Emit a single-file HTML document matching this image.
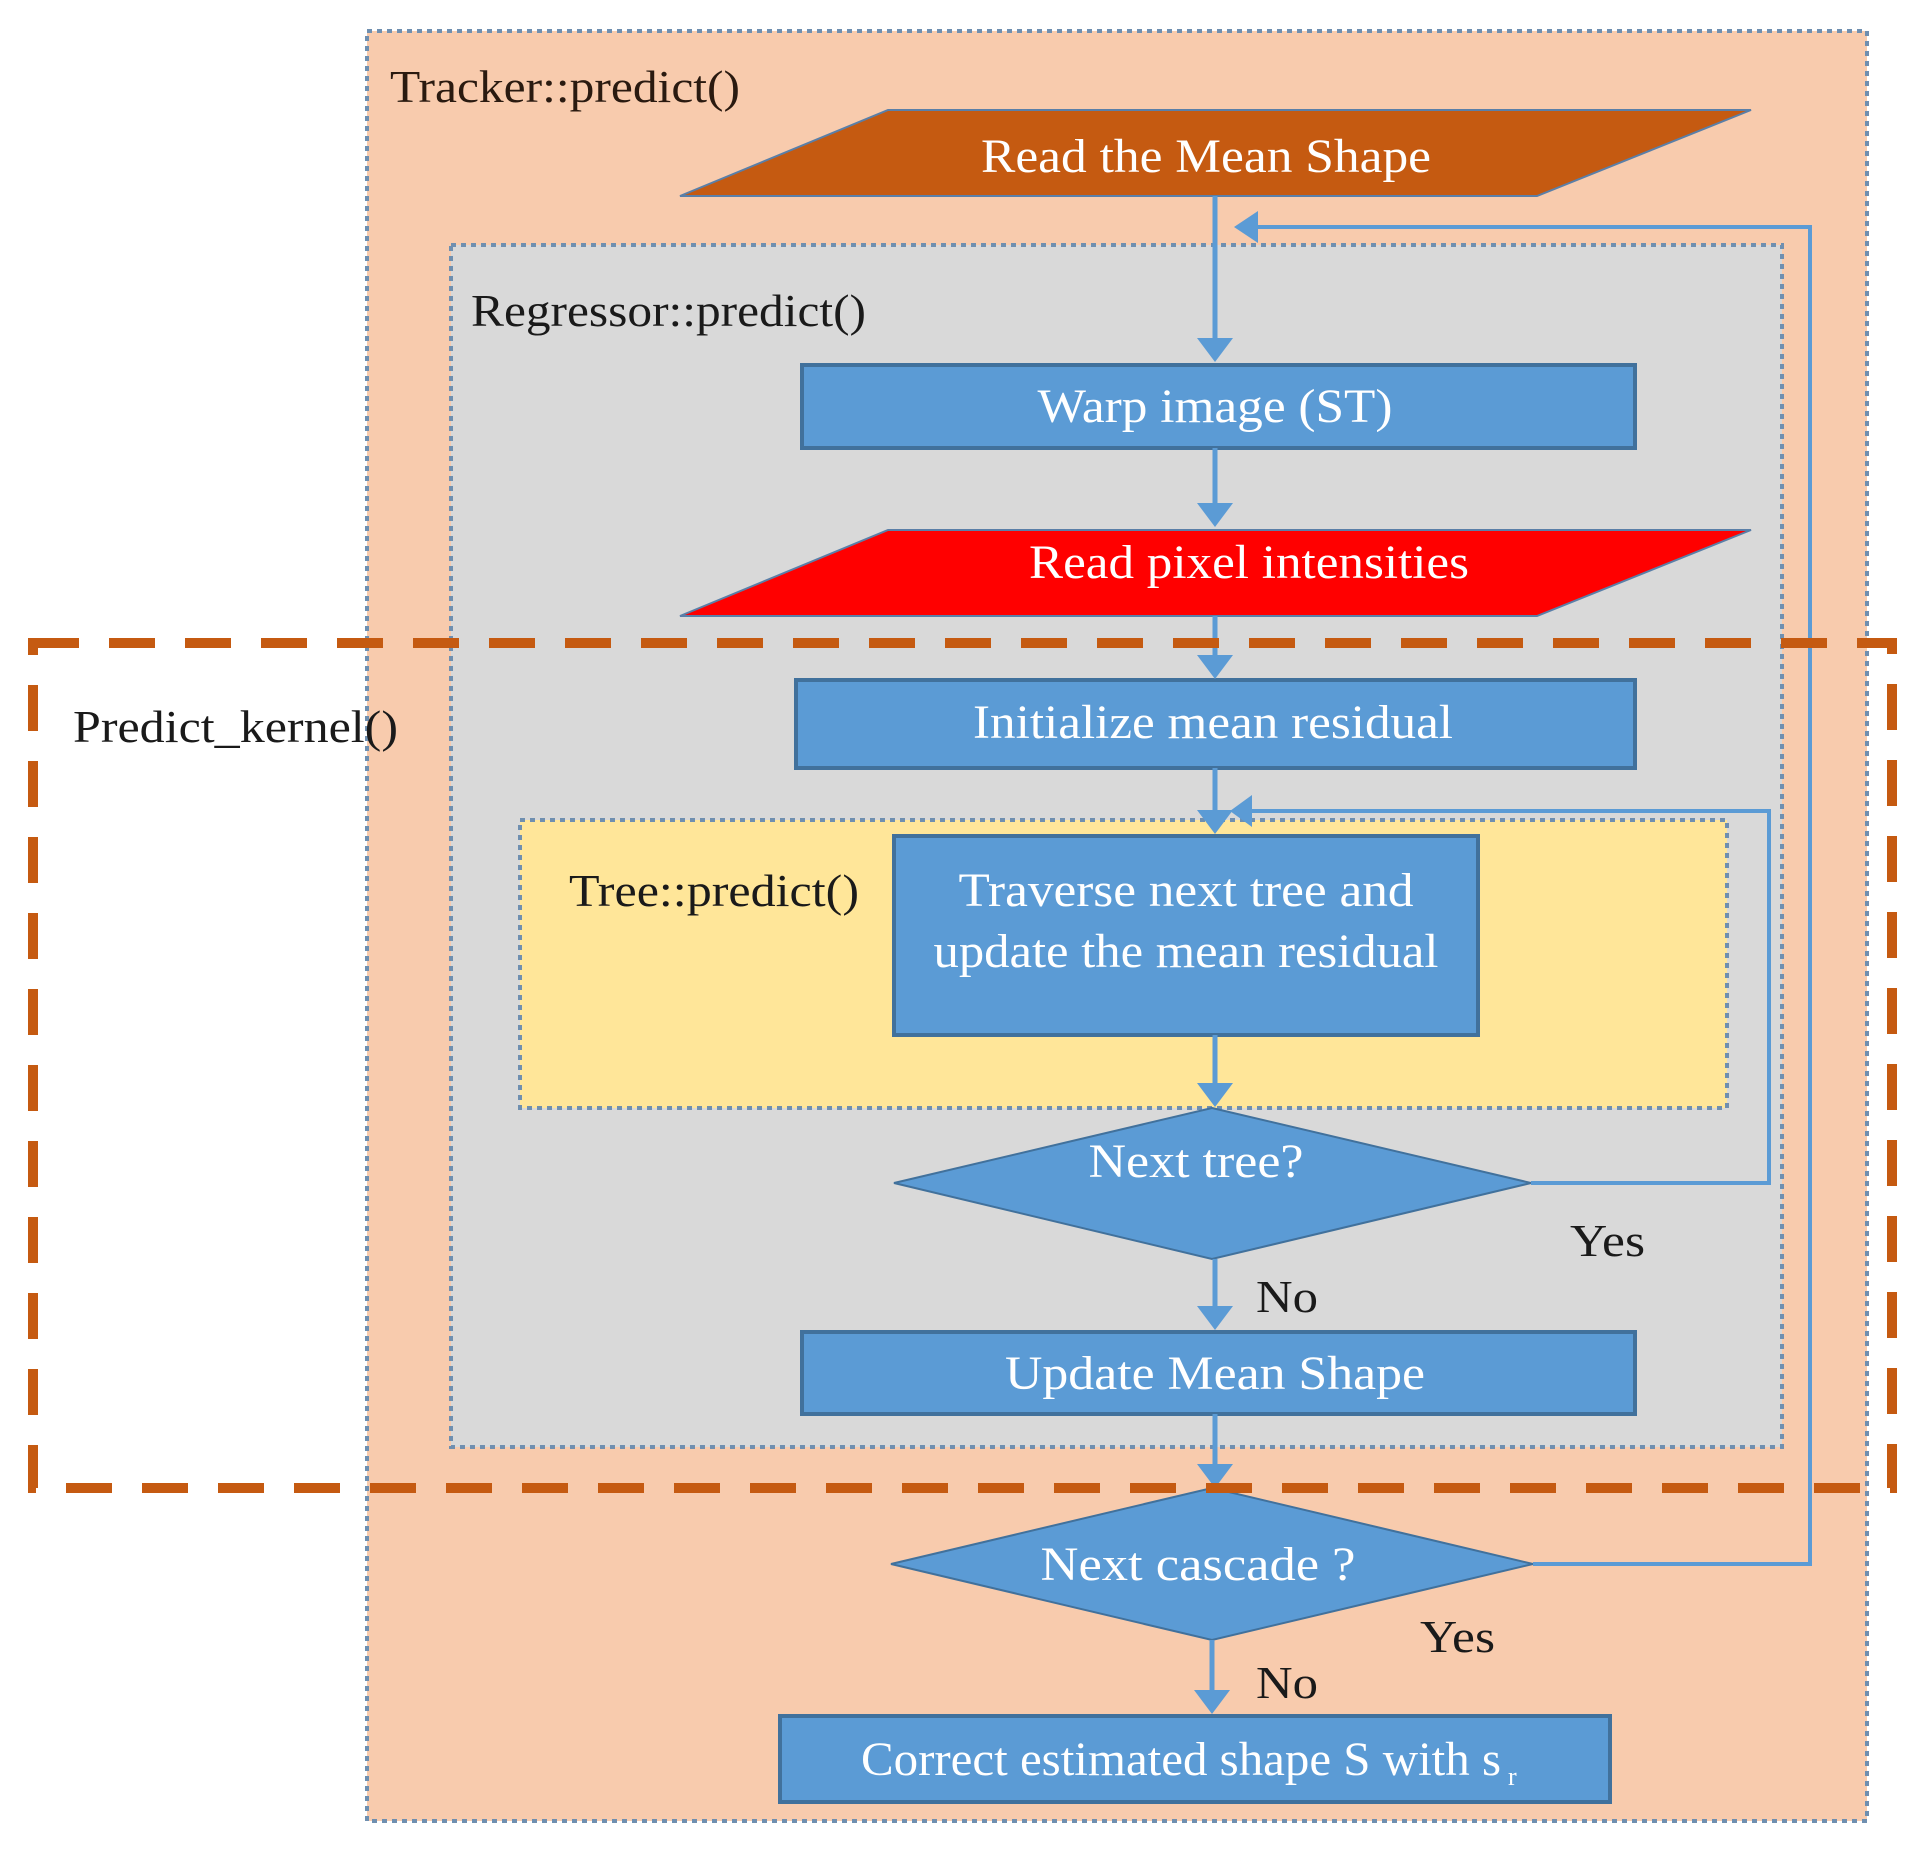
<!DOCTYPE html>
<html><head><meta charset="utf-8"><style>
html,body{margin:0;padding:0;background:#fff;}
svg{display:block;}
text{font-family:"Liberation Serif",serif;}
</style></head><body>
<svg width="1920" height="1855" viewBox="0 0 1920 1855" xmlns="http://www.w3.org/2000/svg">
<!-- Tracker box -->
<rect x="367" y="31" width="1500" height="1790" fill="#f8cbad" stroke="#6f8fb0" stroke-width="4" stroke-dasharray="5,5"/>
<text x="390" y="102" font-size="46" fill="#2a1a10" textLength="350" lengthAdjust="spacingAndGlyphs">Tracker::predict()</text>

<polygon points="888,110 1751,110 1537,196 680,196" fill="#c55a11" stroke="#5a7fa8" stroke-width="2"/>
<text x="1206" y="172" font-size="48" fill="#fff" text-anchor="middle" textLength="450" lengthAdjust="spacingAndGlyphs">Read the Mean Shape</text>

<rect x="451" y="245" width="1331" height="1202" fill="#d9d9d9" stroke="#6f8fb0" stroke-width="4" stroke-dasharray="5,5"/>
<text x="471" y="326" font-size="46" fill="#1a1a1a" textLength="395" lengthAdjust="spacingAndGlyphs">Regressor::predict()</text>

<rect x="802" y="365" width="833" height="83" fill="#5b9bd5" stroke="#41719c" stroke-width="4"/>
<text x="1215" y="422" font-size="48" fill="#fff" text-anchor="middle" textLength="355" lengthAdjust="spacingAndGlyphs">Warp image (ST)</text>

<polygon points="888,530 1751,530 1537,616 680,616" fill="#ff0000" stroke="#5a7fa8" stroke-width="2"/>
<text x="1249" y="578" font-size="48" fill="#fff" text-anchor="middle" textLength="440" lengthAdjust="spacingAndGlyphs">Read pixel intensities</text>

<rect x="796" y="680" width="839" height="88" fill="#5b9bd5" stroke="#41719c" stroke-width="4"/>
<text x="1213" y="738" font-size="48" fill="#fff" text-anchor="middle" textLength="480" lengthAdjust="spacingAndGlyphs">Initialize mean residual</text>

<rect x="520" y="820" width="1207" height="288" fill="#ffe699" stroke="#6f8fb0" stroke-width="4" stroke-dasharray="5,5"/>
<text x="569" y="906" font-size="46" fill="#1a1a1a" textLength="290" lengthAdjust="spacingAndGlyphs">Tree::predict()</text>

<rect x="894" y="836" width="584" height="199" fill="#5b9bd5" stroke="#41719c" stroke-width="4"/>
<text x="1186" y="906" font-size="48" fill="#fff" text-anchor="middle" textLength="455" lengthAdjust="spacingAndGlyphs">Traverse next tree and</text>
<text x="1186" y="967" font-size="48" fill="#fff" text-anchor="middle" textLength="505" lengthAdjust="spacingAndGlyphs">update the mean residual</text>

<polygon points="1212,1108 1531,1183 1212,1259 894,1183" fill="#5b9bd5" stroke="#41719c" stroke-width="2"/>
<text x="1196" y="1177" font-size="48" fill="#fff" text-anchor="middle" textLength="215" lengthAdjust="spacingAndGlyphs">Next tree?</text>

<rect x="802" y="1332" width="833" height="82" fill="#5b9bd5" stroke="#41719c" stroke-width="4"/>
<text x="1215" y="1389" font-size="48" fill="#fff" text-anchor="middle" textLength="420" lengthAdjust="spacingAndGlyphs">Update Mean Shape</text>

<polygon points="1212,1488 1533,1564 1212,1640 891,1564" fill="#5b9bd5" stroke="#41719c" stroke-width="2"/>
<text x="1198" y="1580" font-size="48" fill="#fff" text-anchor="middle" textLength="315" lengthAdjust="spacingAndGlyphs">Next cascade ?</text>

<rect x="780" y="1716" width="830" height="86" fill="#5b9bd5" stroke="#41719c" stroke-width="4"/>
<text x="861" y="1775" font-size="48" fill="#fff" textLength="640" lengthAdjust="spacingAndGlyphs">Correct estimated shape S with s</text>
<text x="1508" y="1785" font-size="26" fill="#fff">r</text>

<text x="1570" y="1256" font-size="46" fill="#1a1a1a" textLength="75" lengthAdjust="spacingAndGlyphs">Yes</text>
<text x="1256" y="1312" font-size="46" fill="#1a1a1a" textLength="62" lengthAdjust="spacingAndGlyphs">No</text>
<text x="1420" y="1652" font-size="46" fill="#1a1a1a" textLength="75" lengthAdjust="spacingAndGlyphs">Yes</text>
<text x="1256" y="1698" font-size="46" fill="#1a1a1a" textLength="62" lengthAdjust="spacingAndGlyphs">No</text>

<g stroke="#5b9bd5" stroke-width="5" fill="none">
<line x1="1215" y1="196" x2="1215" y2="340"/>
<line x1="1215" y1="448" x2="1215" y2="505"/>
<line x1="1215" y1="616" x2="1215" y2="656"/>
<line x1="1215" y1="768" x2="1215" y2="812"/>
<line x1="1215" y1="1035" x2="1215" y2="1085"/>
<line x1="1215" y1="1259" x2="1215" y2="1308"/>
<line x1="1215" y1="1414" x2="1215" y2="1466"/>
<line x1="1212" y1="1640" x2="1212" y2="1692"/>
</g>
<g stroke="#5b9bd5" stroke-width="4" fill="none">
<polyline points="1531,1183 1769,1183 1769,811 1250,811"/>
<polyline points="1533,1564 1810,1564 1810,227 1250,227"/>
</g>
<g fill="#5b9bd5">
<polygon points="1197,338 1233,338 1215,362"/>
<polygon points="1197,503 1233,503 1215,527"/>
<polygon points="1197,655 1233,655 1215,679"/>
<polygon points="1197,810 1233,810 1215,834"/>
<polygon points="1197,1083 1233,1083 1215,1107"/>
<polygon points="1197,1306 1233,1306 1215,1330"/>
<polygon points="1197,1464 1233,1464 1215,1488"/>
<polygon points="1194,1690 1230,1690 1212,1714"/>
<polygon points="1252,795 1252,827 1230,811"/>
<polygon points="1258,211 1258,243 1234,227"/>
</g>

<rect x="33" y="643" width="1859" height="845" fill="none" stroke="#c55a11" stroke-width="10" stroke-dasharray="46,30"/>
<text x="73" y="742" font-size="46" fill="#1a1a1a" textLength="325" lengthAdjust="spacingAndGlyphs">Predict_kernel()</text>
</svg>
</body></html>
